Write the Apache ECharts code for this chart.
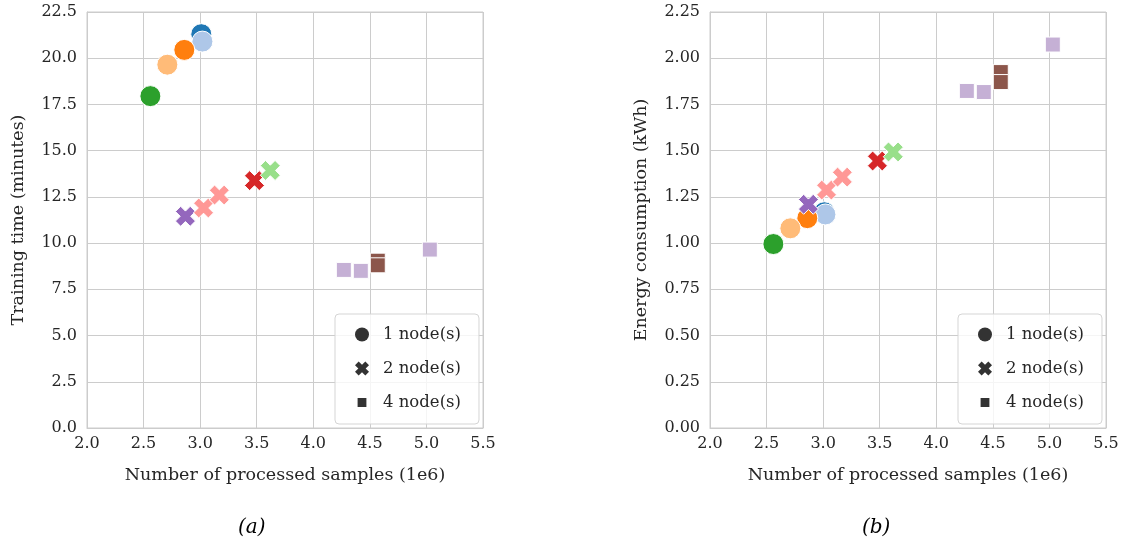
<!DOCTYPE html>
<html>
<head>
<meta charset="utf-8">
<script src="https://cdn.jsdelivr.net/npm/echarts@6/dist/echarts.min.js"></script>
<style>
html,body{margin:0;padding:0;background:#fff;}
#chart{width:1124px;height:547px;}
</style>
</head>
<body>
<div id="chart"></div>
<script>
// ---- data ----
const xTicks = [2.0, 2.5, 3.0, 3.5, 4.0, 4.5, 5.0, 5.5];
const seriesNames = ['1 node(s)', '2 node(s)', '4 node(s)'];

const node1Samples = [3.01, 3.02, 2.86, 2.71, 2.56];
const node1Time    = [21.3, 20.9, 20.45, 19.65, 17.95];
const node1Energy  = [1.167, 1.155, 1.135, 1.08, 0.995];

const node2Samples = [2.87, 3.03, 3.17, 3.48, 3.62];
const node2Time    = [11.45, 11.9, 12.6, 13.38, 13.93];
const node2Energy  = [1.21, 1.287, 1.357, 1.444, 1.493];

const node4Samples = [4.27, 4.42, 4.57, 4.57, 5.03];
const node4Time    = [8.55, 8.5, 9.05, 8.8, 9.65];
const node4Energy  = [1.823, 1.817, 1.925, 1.871, 2.074];

// ---- styles ----
const node1Colors = ['#1f77b4', '#aec7e8', '#ff7f0e', '#ffbb78', '#2ca02c'];
const node2Colors = ['#9467bd', '#ff9896', '#ff9896', '#d62728', '#98df8a'];
const node4Colors = ['#c5b0d5', '#c5b0d5', '#8c564b', '#8c564b', '#c5b0d5'];

const CROSS = 'path://M2.6,0 L5,2.4 L7.4,0 L10,2.6 L7.6,5 L10,7.4 L7.4,10 L5,7.6 L2.6,10 L0,7.4 L2.4,5 L0,2.6 Z';
const LEG_SQUARE = 'path://M0,0 L0.01,0 L0,0.01 Z M2.6,2.6 L11.4,2.6 L11.4,11.4 L2.6,11.4 Z M14,14 L13.99,14 L14,13.99 Z';
const FONT = '"DejaVu Serif", serif';
const TXT = '#262626';
const GRIDC = '#cccccc';

function pts(xs, ys, cols) {
  return xs.map((x, i) => ({ value: [x, ys[i]], itemStyle: { color: cols[i] } }));
}

const groups = [
  { name: seriesNames[0], xs: node1Samples, t: node1Time, e: node1Energy, c: node1Colors, symbol: 'circle', size: 21 },
  { name: seriesNames[1], xs: node2Samples, t: node2Time, e: node2Energy, c: node2Colors, symbol: CROSS, size: 20 },
  { name: seriesNames[2], xs: node4Samples, t: node4Time, e: node4Energy, c: node4Colors, symbol: 'rect', size: 15 }
];

const series = [];
[0, 1].forEach(g => {
  groups.forEach(gr => {
    series.push({
      type: 'scatter',
      name: gr.name,
      xAxisIndex: g, yAxisIndex: g,
      symbol: gr.symbol,
      symbolSize: gr.size,
      itemStyle: { color: '#333333', borderColor: '#ffffff', borderWidth: 1, opacity: 1 },
      emphasis: { disabled: true },
      data: pts(gr.xs, g === 0 ? gr.t : gr.e, gr.c)
    });
  });
});

function xAxisDef(idx) {
  return {
    type: 'value', gridIndex: idx, min: 2.0, max: 5.5, interval: 0.5,
    name: 'Number of processed samples (1e6)', nameLocation: 'middle', nameGap: 38,
    nameTextStyle: { fontFamily: FONT, fontSize: 17.5, color: TXT },
    axisLine: { show: true, lineStyle: { color: GRIDC, width: 1 } },
    axisTick: { show: false },
    axisLabel: { fontFamily: FONT, fontSize: 16, color: TXT, margin: 8, formatter: v => v.toFixed(1) },
    splitLine: { show: true, lineStyle: { color: GRIDC, width: 1 } }
  };
}
function yAxisDef(idx, name, max, interval, dec, gap) {
  return {
    type: 'value', gridIndex: idx, min: 0, max: max, interval: interval,
    name: name, nameLocation: 'middle', nameGap: gap, nameRotate: 90,
    nameTextStyle: { fontFamily: FONT, fontSize: 17.5, color: TXT },
    axisLine: { show: true, lineStyle: { color: GRIDC, width: 1 } },
    axisTick: { show: false },
    axisLabel: { fontFamily: FONT, fontSize: 16, color: TXT, margin: 10, formatter: v => v.toFixed(dec) },
    splitLine: { show: true, lineStyle: { color: GRIDC, width: 1 } }
  };
}

function legendDef(left) {
  return {
    orient: 'vertical', left: left, top: 314,
    data: [
      { name: seriesNames[0], icon: 'circle' },
      { name: seriesNames[1], icon: CROSS },
      { name: seriesNames[2], icon: LEG_SQUARE }
    ],
    padding: [12, 18, 13, 20],
    itemGap: 17, itemWidth: 14, itemHeight: 14,
    backgroundColor: 'rgba(255,255,255,0.8)',
    borderColor: '#d5d5d5', borderWidth: 1, borderRadius: 4,
    itemStyle: { borderWidth: 0 },
    textStyle: { fontFamily: FONT, fontSize: 16.5, color: TXT, padding: [0, 0, 0, 9] },
    selectedMode: false
  };
}

const chart = echarts.init(document.getElementById('chart'), null, { renderer: 'canvas' });
chart.setOption({
  backgroundColor: '#ffffff',
  animation: false,
  grid: [
    { left: 87, top: 12, width: 396, height: 416, show: true, borderColor: GRIDC, borderWidth: 1 },
    { left: 710, top: 12, width: 396, height: 416, show: true, borderColor: GRIDC, borderWidth: 1 }
  ],
  xAxis: [xAxisDef(0), xAxisDef(1)],
  yAxis: [
    yAxisDef(0, 'Training time (minutes)', 22.5, 2.5, 1, 60),
    yAxisDef(1, 'Energy consumption (kWh)', 2.25, 0.25, 2, 60)
  ],
  legend: [legendDef(335), legendDef(958)],
  graphic: [
    { type: 'text', left: 238, top: 518, style: { text: '(a)', font: 'italic 20px "DejaVu Serif", serif', fill: '#000' } },
    { type: 'text', left: 862, top: 518, style: { text: '(b)', font: 'italic 20px "DejaVu Serif", serif', fill: '#000' } }
  ],
  series: series
});
</script>
</body>
</html>
